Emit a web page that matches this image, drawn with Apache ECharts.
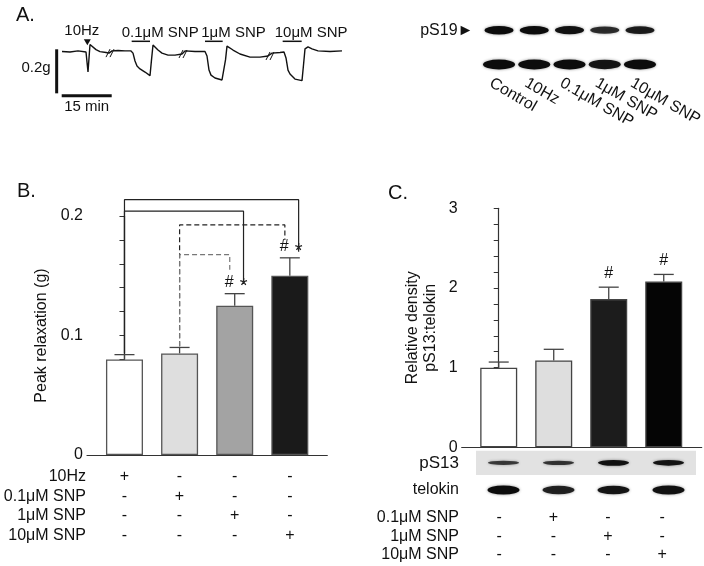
<!DOCTYPE html>
<html>
<head>
<meta charset="utf-8">
<script src="https://cdn.jsdelivr.net/npm/echarts@6/dist/echarts.min.js"></script>
<style>
  html, body { margin: 0; padding: 0; background: #fff; }
  #main { width: 704px; height: 566px; }
</style>
</head>
<body>
<div id="main"></div>
<script>
// ---- panel A: tension trace (time in min, change in force in g) ----
var traceTime = [0, 2.4, 4.8, 7.2, 7.65, 7.8, 8.1, 8.4, 9.0, 10.2, 11.4, 13.2, 14.1, 15, 16.8, 18.9, 20.7,
  21.3, 21.9, 22.5, 23.4, 24.9, 26.4, 26.85, 27.3, 27.9, 28.8, 30, 31.8, 33.9, 36, 36.9, 39.9, 42.9,
  43.5, 44.1, 44.7, 45.9, 48, 48.6, 49.05, 49.5, 50.1, 51.3, 53.4, 56.4, 59.4, 61.8, 63, 65.4, 66.6,
  67.2, 67.8, 68.4, 69.9, 72, 72.45, 72.9, 73.8, 75, 76.8, 80.4, 84];
var traceForce = [0.002, 0, 0.005, 0, 0, -0.09, -0.091, 0.034, 0.027, 0.011, 0.002, -0.002, -0.005, 0.005, 0.007, 0.005, 0.005,
  -0.005, -0.041, -0.064, -0.077, -0.091, -0.107, -0.036, 0.032, 0.03, 0.009, -0.005, -0.014, -0.014, -0.009, 0.005, 0.002, 0.002,
  -0.018, -0.082, -0.105, -0.118, -0.127, -0.118, -0.036, 0.027, 0.03, 0.009, -0.009, -0.023, -0.023, -0.018, -0.005, -0.002, 0,
  -0.027, -0.082, -0.1, -0.123, -0.13, -0.059, 0.014, 0.023, 0.014, 0.005, 0.002, 0.005];
var stimLabels = ['0.1μM SNP', '1μM SNP', '10μM SNP'];
var stimStart = [20.9, 42.9, 66.2];
var stimEnd = [26.4, 48.2, 71.9];
var efsLabel = '10Hz';
var efsTime = 7.6;
var breakTimes = [14.4, 36.3, 62.4];
var scaleForce = 0.2;   // g
var scaleTime = 15;     // min

// ---- panel A: blot ----
var laneLabelsA = ['Control', '10Hz', '0.1μM SNP', '1μM SNP', '10μM SNP'];
var blotRowsA = ['pS19', ''];
var pS19Density = [1, 1, 0.95, 0.7, 0.85];
var loadDensity = [1, 1, 1, 0.9, 1];

// ---- panel B ----
var groupsB = ['10Hz', '0.1μM SNP', '1μM SNP', '10μM SNP'];
var peakRelax = [0.080, 0.085, 0.125, 0.150];
var peakRelaxErr = [0.004, 0.005, 0.010, 0.015];
var hashB = [false, false, true, true];   // vs 0.1μM SNP
var starB = [false, false, true, true];   // vs 10Hz
var rowsB = ['10Hz', '0.1μM SNP', '1μM SNP', '10μM SNP'];
var signsB = [
  ['+', '-', '-', '-'],
  ['-', '+', '-', '-'],
  ['-', '-', '+', '-'],
  ['-', '-', '-', '+']
];

// ---- panel C ----
var relDensity = [1.0, 1.09, 1.86, 2.08];
var relDensityErr = [0.07, 0.14, 0.15, 0.09];
var hashC = [false, false, true, true];
var pS13Density = [0.55, 0.6, 0.95, 0.9];
var telokinDensity = [1, 0.8, 0.9, 0.95];
var rowsC = ['0.1μM SNP', '1μM SNP', '10μM SNP'];
var signsC = [
  ['-', '+', '-', '-'],
  ['-', '-', '+', '-'],
  ['-', '-', '-', '+']
];

var colorsB = ['#ffffff', '#dedede', '#a3a3a3', '#1a1a1a'];
var colorsC = ['#ffffff', '#dedede', '#1c1c1c', '#050505'];
var font = 'Liberation Sans, Arial, sans-serif';
var ink = '#111';
var fs = 16;

var chart = echarts.init(document.getElementById('main'));

function hiddenAxis(grid, type, extra) {
  return Object.assign({ gridIndex: grid, type: type, show: false }, extra || {});
}

// error bar drawn upward from the bar top
function errorBars(cap) {
  return function (params, api) {
    var x = api.value(0), top = api.value(1), err = api.value(2);
    var p0 = api.coord([x, top]);
    var p1 = api.coord([x, top + err]);
    var st = { stroke: '#444', lineWidth: 1.3 };
    return {
      type: 'group',
      children: [
        { type: 'line', shape: { x1: p0[0], y1: p0[1], x2: p1[0], y2: p1[1] }, style: st },
        { type: 'line', shape: { x1: p1[0] - cap, y1: p1[1], x2: p1[0] + cap, y2: p1[1] }, style: st }
      ]
    };
  };
}

function bandSeries(xi, yi, row, dens, w, h0, h1) {
  return {
    type: 'scatter', xAxisIndex: xi, yAxisIndex: yi, silent: true,
    data: dens.map(function (d, i) { return [i, row, d]; }),
    symbol: 'circle',
    symbolSize: function (v) { return [w, h0 + h1 * v[2]]; },
    itemStyle: {
      opacity: 1,
      color: function (p) { return 'rgba(12,12,12,' + (0.4 + 0.6 * p.value[2]) + ')'; },
      shadowBlur: 3, shadowColor: 'rgba(0,0,0,0.45)'
    }
  };
}

var clearItem = { color: 'rgba(0,0,0,0)', opacity: 1 };

function signSeries(xi, yi, signs) {
  var data = [];
  signs.forEach(function (row, r) {
    row.forEach(function (s, c) { data.push([c, r, s]); });
  });
  return {
    type: 'scatter', xAxisIndex: xi, yAxisIndex: yi, symbolSize: 1, silent: true,
    data: data, itemStyle: clearItem,
    label: { show: true, position: 'inside', formatter: function (p) { return p.value[2]; },
      color: ink, fontFamily: font, fontSize: fs }
  };
}

// significance brackets for B: from a control group to a treated group
var bracketB = [
  { from: 0, to: 3, level: 0.2137, dx: 0.16, gap: 0.005, dash: 'solid', color: '#222' },
  { from: 0, to: 2, level: 0.204, dx: 0.16, gap: 0.008, dash: 'solid', color: '#222' },
  { from: 1, to: 3, level: 0.1925, dx: -0.09, gap: 0.015, dash: [5, 3], color: '#222' },
  { from: 1, to: 2, level: 0.1676, dx: -0.09, gap: 0.02, dash: [5, 3], color: '#777' }
];

var bracketSeries = bracketB.map(function (b) {
  var yl = peakRelax[b.from] + peakRelaxErr[b.from] + 0.001;
  var yr = peakRelax[b.to] + peakRelaxErr[b.to] + b.gap;
  return {
    type: 'line', xAxisIndex: 2, yAxisIndex: 2, clip: false, silent: true,
    showSymbol: false, symbol: 'none',
    data: [[b.from, yl], [b.from, b.level], [b.to + b.dx, b.level], [b.to + b.dx, yr]],
    lineStyle: { color: b.color, width: 1.2, type: b.dash }
  };
});

var hashMarkB = [], starMarkB = [];
peakRelax.forEach(function (v, i) {
  var y = v + peakRelaxErr[i] + 0.009;
  if (hashB[i]) hashMarkB.push([i - 0.1, y, '#']);
  if (starB[i]) starMarkB.push([i + 0.16, y, '*']);
});
var hashMarkC = [];
relDensity.forEach(function (v, i) {
  if (hashC[i]) hashMarkC.push([i, v + relDensityErr[i] + 0.17, '#']);
});

function markSeries(xi, yi, data, size, dy) {
  return {
    type: 'scatter', xAxisIndex: xi, yAxisIndex: yi, symbolSize: 1, clip: false, silent: true,
    data: data, itemStyle: clearItem,
    label: { show: true, position: 'inside', offset: [0, dy], formatter: function (p) { return p.value[2]; },
      color: ink, fontFamily: font, fontSize: size }
  };
}

function valueAxisY(grid, max, interval, fmt, name, nameGap) {
  return {
    gridIndex: grid, type: 'value', min: 0, max: max, interval: interval,
    name: name, nameLocation: 'middle', nameGap: nameGap, nameRotate: 90,
    nameTextStyle: { color: ink, fontFamily: font, fontSize: fs, lineHeight: 18 },
    axisLine: { show: true, lineStyle: { color: '#333', width: 1.2 } },
    axisTick: { show: true, length: 5, lineStyle: { color: '#333', width: 1 } },
    splitLine: { show: false },
    axisLabel: { color: ink, fontFamily: font, fontSize: fs, margin: 4, formatter: fmt }
  };
}

function rowAxis(grid, rows, margin, extra) {
  return {
    gridIndex: grid, type: 'category', data: rows, inverse: true,
    axisLine: { show: false }, axisTick: { show: false },
    axisLabel: Object.assign({ interval: 0, margin: margin, color: ink, fontFamily: font, fontSize: fs }, extra || {})
  };
}

var option = {
  backgroundColor: '#fff',
  animation: false,
  textStyle: { fontFamily: font },
  grid: [
    { left: 62, top: 30, width: 280, height: 70, outerBoundsMode: 'none' },
    { left: 481.4, top: 13, width: 176.2, height: 68.6, outerBoundsMode: 'none' },
    { left: 87, top: 216, width: 240.3, height: 239, outerBoundsMode: 'none' },
    { left: 461.7, top: 208.3, width: 240, height: 239, outerBoundsMode: 'none' },
    { left: 476, top: 450.7, width: 220, height: 24.3, show: true, backgroundColor: '#e2e2e2', borderWidth: 0, outerBoundsMode: 'none' },
    { left: 476, top: 478, width: 220, height: 24, outerBoundsMode: 'none' },
    { left: 96.7, top: 466.9, width: 220.8, height: 78.2, outerBoundsMode: 'none' },
    { left: 472, top: 507.9, width: 217.3, height: 56.6, outerBoundsMode: 'none' },
    { left: 473, top: 13, width: 176.2, height: 67, outerBoundsMode: 'none' }
  ],
  xAxis: [
    hiddenAxis(0, 'value', { min: 0, max: 84 }),
    hiddenAxis(1, 'category', { data: laneLabelsA }),
    {
      gridIndex: 2, type: 'value', min: -0.68, max: 3.68,
      axisLine: { show: true, onZero: false, lineStyle: { color: '#333', width: 1.2 } },
      axisTick: { show: false }, axisLabel: { show: false }, splitLine: { show: false }
    },
    {
      gridIndex: 3, type: 'value', min: -0.673, max: 3.69,
      axisLine: { show: true, onZero: false, lineStyle: { color: '#333', width: 1.2 } },
      axisTick: { show: false }, axisLabel: { show: false }, splitLine: { show: false }
    },
    hiddenAxis(4, 'category', { data: groupsB }),
    hiddenAxis(5, 'category', { data: groupsB }),
    hiddenAxis(6, 'category', { data: groupsB }),
    hiddenAxis(7, 'category', { data: groupsB }),
    {
      // lane labels of the pS19 blot
      gridIndex: 8, type: 'category', data: laneLabelsA,
      axisLine: { show: false }, axisTick: { show: false },
      axisLabel: { rotate: -30, margin: 2, interval: 0, color: ink, fontFamily: font, fontSize: fs }
    }
  ],
  yAxis: [
    hiddenAxis(0, 'value', { min: -0.218, max: 0.1 }),
    rowAxis(1, blotRowsA, 8, { padding: [6, 0, 0, 0], formatter: function (v) { return v ? v + '►' : ''; } }),
    valueAxisY(2, 0.2, 0.02, function (v) {
      return Math.abs(v * 10 - Math.round(v * 10)) < 1e-6 ? String(Math.round(v * 10) / 10) : '';
    }, 'Peak relaxation (g)', 36),
    valueAxisY(3, 3, 0.2, function (v) {
      return Math.abs(v - Math.round(v)) < 1e-6 ? String(Math.round(v)) : '';
    }, 'Relative density\npS13:telokin', 22),
    rowAxis(4, ['pS13'], 17, { padding: [10, 0, 0, 0], fontSize: 17 }),
    rowAxis(5, ['telokin'], 17, { padding: [4, 0, 0, 0] }),
    rowAxis(6, rowsB, 10.7),
    rowAxis(7, rowsC, 13),
    hiddenAxis(8, 'value')
  ],
  series: [
    // A: trace
    {
      type: 'line', xAxisIndex: 0, yAxisIndex: 0, showSymbol: false, symbol: 'none', silent: true,
      data: traceTime.map(function (t, i) { return [t, traceForce[i]]; }),
      lineStyle: { color: ink, width: 1.4 }
    },
    // A: drug application bars with labels
    {
      type: 'custom', xAxisIndex: 0, yAxisIndex: 0, clip: false, silent: true,
      data: stimStart.map(function (s, i) { return [s, stimEnd[i], i]; }),
      renderItem: function (params, api) {
        var p0 = api.coord([api.value(0), 0.0486]);
        var p1 = api.coord([api.value(1), 0.0486]);
        return {
          type: 'group',
          children: [
            { type: 'line', shape: { x1: p0[0], y1: p0[1], x2: p1[0], y2: p1[1] }, style: { stroke: ink, lineWidth: 1.5 } },
            { type: 'text', x: p0[0] + 28.5, y: p0[1] - 1,
              style: { text: stimLabels[api.value(2)], fill: ink, font: '15px ' + font, textAlign: 'center', textVerticalAlign: 'bottom' } }
          ]
        };
      }
    },
    // A: field stimulation marker
    {
      type: 'custom', xAxisIndex: 0, yAxisIndex: 0, clip: false, silent: true,
      data: [[efsTime, 0.044]],
      renderItem: function (params, api) {
        var p = api.coord([api.value(0), api.value(1)]);
        return {
          type: 'group',
          children: [
            { type: 'polygon', shape: { points: [[p[0] - 3.5, p[1] - 3], [p[0] + 3.5, p[1] - 3], [p[0], p[1] + 3]] }, style: { fill: ink } },
            { type: 'text', x: p[0] - 5.5, y: p[1] - 4,
              style: { text: efsLabel, fill: ink, font: '15px ' + font, textAlign: 'center', textVerticalAlign: 'bottom' } }
          ]
        };
      }
    },
    // A: recording breaks
    {
      type: 'custom', xAxisIndex: 0, yAxisIndex: 0, clip: false, silent: true,
      data: breakTimes.map(function (t) {
        var k = 0;
        for (var i = 0; i < traceTime.length; i++) if (Math.abs(traceTime[i] - t) < Math.abs(traceTime[k] - t)) k = i;
        return [t, traceForce[k]];
      }),
      renderItem: function (params, api) {
        var p = api.coord([api.value(0), api.value(1)]);
        var kids = [];
        [-2, 2].forEach(function (d) {
          kids.push({ type: 'line', shape: { x1: p[0] + d - 2, y1: p[1] + 4, x2: p[0] + d + 2, y2: p[1] - 4 },
            style: { stroke: ink, lineWidth: 1 } });
        });
        return { type: 'group', children: kids };
      }
    },
    // A: scale bars
    {
      type: 'custom', xAxisIndex: 0, yAxisIndex: 0, clip: false, silent: true,
      data: [[scaleForce, scaleTime]],
      renderItem: function (params, api) {
        var v0 = api.coord([-1.6, 0.0123]);
        var v1 = api.coord([-1.6, 0.0123 - api.value(0)]);
        var h0 = api.coord([-0.09, -0.1986]);
        var h1 = api.coord([-0.09 + api.value(1), -0.1986]);
        var st = { stroke: ink, lineWidth: 3 };
        return {
          type: 'group',
          children: [
            { type: 'line', shape: { x1: v0[0], y1: v0[1], x2: v1[0], y2: v1[1] }, style: st },
            { type: 'line', shape: { x1: h0[0], y1: h0[1], x2: h1[0], y2: h1[1] }, style: st },
            { type: 'text', x: v0[0] - 6, y: (v0[1] + v1[1]) / 2 - 3,
              style: { text: api.value(0) + 'g', fill: ink, font: '15px ' + font, textAlign: 'right', textVerticalAlign: 'middle' } },
            { type: 'text', x: (h0[0] + h1[0]) / 2, y: h0[1] + 4,
              style: { text: api.value(1) + ' min', fill: ink, font: '15px ' + font, textAlign: 'center', textVerticalAlign: 'top' } }
          ]
        };
      }
    },
    // A: blot bands
    bandSeries(1, 1, 0, pS19Density, 29, 4, 4.5),
    bandSeries(1, 1, 1, loadDensity, 32, 5, 5),
    // B: bars
    {
      type: 'bar', xAxisIndex: 2, yAxisIndex: 2, barWidth: 37, silent: true,
      data: peakRelax.map(function (v, i) { return { value: [i, v], itemStyle: { color: colorsB[i] } }; }),
      itemStyle: { borderColor: '#555', borderWidth: 1.3 }
    },
    {
      type: 'custom', xAxisIndex: 2, yAxisIndex: 2, clip: false, silent: true,
      data: peakRelax.map(function (v, i) { return [i, v, peakRelaxErr[i]]; }),
      renderItem: errorBars(10)
    }
  ].concat(bracketSeries).concat([
    markSeries(2, 2, hashMarkB, fs, 0),
    markSeries(2, 2, starMarkB, 20, 4),
    // C: bars
    {
      type: 'bar', xAxisIndex: 3, yAxisIndex: 3, barWidth: 37, silent: true,
      data: relDensity.map(function (v, i) { return { value: [i, v], itemStyle: { color: colorsC[i] } }; }),
      itemStyle: { borderColor: '#444', borderWidth: 1.3 }
    },
    {
      type: 'custom', xAxisIndex: 3, yAxisIndex: 3, clip: false, silent: true,
      data: relDensity.map(function (v, i) { return [i, v, relDensityErr[i]]; }),
      renderItem: errorBars(10)
    },
    markSeries(3, 3, hashMarkC, fs, 0),
    // C: blot bands
    bandSeries(4, 4, 0, pS13Density, 31, 2, 4),
    bandSeries(5, 5, 0, telokinDensity, 32, 6, 3),
    // treatment tables
    signSeries(6, 6, signsB),
    signSeries(7, 7, signsC)
  ]),
  graphic: [
    { type: 'text', left: 16, top: 5, style: { text: 'A.', fill: ink, font: '20px ' + font } },
    { type: 'text', left: 17, top: 181, style: { text: 'B.', fill: ink, font: '20px ' + font } },
    { type: 'text', left: 388, top: 183, style: { text: 'C.', fill: ink, font: '20px ' + font } }
  ]
};

chart.setOption(option);
</script>
</body>
</html>
